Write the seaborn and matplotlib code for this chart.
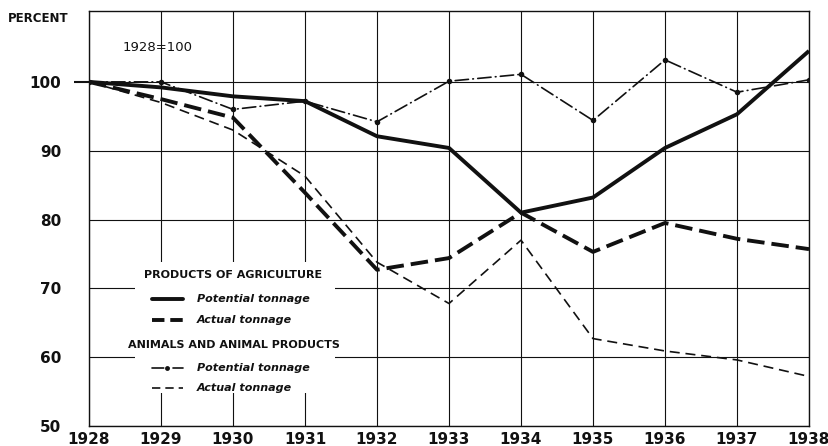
import matplotlib
matplotlib.use("Agg")
import matplotlib.pyplot as plt
import seaborn as sns
from matplotlib.patches import Rectangle
from matplotlib.lines import Line2D

# Index of potential and actual tonnage, 1928 = 100
years = [1928, 1929, 1930, 1931, 1932, 1933, 1934, 1935, 1936, 1937, 1938]
agri_potential = [100, 99.2, 97.9, 97.2, 92.1, 90.4, 81.0, 83.2, 90.4, 95.3, 104.5]
agri_actual = [100, 97.5, 94.8, 83.9, 72.7, 74.4, 81.0, 75.3, 79.5, 77.2, 75.7]
animal_potential = [100, 100.0, 96.0, 97.2, 94.2, 100.1, 101.1, 94.4, 103.2, 98.5, 100.3]
animal_actual = [100, 97.0, 93.0, 86.3, 73.8, 67.8, 77.0, 62.7, 60.9, 59.6, 57.2]

y_ticks = [50, 60, 70, 80, 90, 100]

sns.set_theme(style="white")
plt.rcParams["font.family"] = ["DejaVu Sans"]

fig = plt.figure(figsize=(8.29, 4.46), dpi=100)
ax = fig.add_axes([89 / 829, 20 / 446, 720 / 829, 415 / 446])

ink = "#111111"

# data lines
sns.lineplot(x=years, y=agri_potential, ax=ax, color=ink, lw=2.8,
             solid_capstyle="butt", zorder=5)
sns.lineplot(x=years, y=agri_actual, ax=ax, color=ink, lw=2.8,
             linestyle=(0, (4.5, 1.8)), dash_capstyle="butt", zorder=5)
sns.lineplot(x=years, y=animal_potential, ax=ax, color=ink, lw=1.2,
             linestyle=(0, (8, 2.6, 0.4, 2.6)), dash_capstyle="round",
             marker="o", markersize=4, markeredgewidth=0, zorder=5)
sns.lineplot(x=years, y=animal_actual, ax=ax, color=ink, lw=1.2,
             linestyle=(0, (6, 3.5)), dash_capstyle="butt", zorder=5)

ax.set_xlim(1928, 1938)
ax.set_ylim(50, 110.3)
ax.set_xticks(years)
ax.set_xticklabels([str(y) for y in years])
ax.set_yticks(y_ticks)
ax.set_yticklabels([str(v) for v in y_ticks])
ax.set_xlabel("")
ax.set_ylabel("")

ax.grid(True, color=ink, lw=0.8, zorder=0)
ax.set_axisbelow(True)
for s in ax.spines.values():
    s.set_visible(True)
    s.set_color(ink)
    s.set_linewidth(1.0)

ax.tick_params(axis="x", bottom=True, length=0, pad=4, labelsize=11, colors=ink)
ax.tick_params(axis="y", left=True, length=0, pad=20, labelsize=11, colors=ink)
for lab in ax.get_xticklabels() + ax.get_yticklabels():
    lab.set_fontweight("bold")

# short outward tick at the base value
base_tick = ax.yaxis.get_major_ticks()[y_ticks.index(100)]
base_tick.tick1line.set_visible(True)
base_tick.tick1line.set_markersize(11)
base_tick.tick1line.set_markeredgewidth(1.5)
base_tick.tick1line.set_color(ink)

# axis caption and base note
fig.text(8 / 829, 1 - 19 / 446, "PERCENT", fontsize=8.5, fontweight="bold",
         ha="left", va="center", color=ink)
ax.text(0.047, 0.911, "1928=100", transform=ax.transAxes, fontsize=9.5,
        ha="left", va="center", color=ink)

# legend panel
ax.add_patch(Rectangle((0.064, 0.08), 0.278, 0.315, transform=ax.transAxes,
                       facecolor="white", edgecolor="none", zorder=2))

head_kw = dict(transform=ax.transAxes, fontsize=8, fontweight="bold",
               ha="center", va="center", color=ink, zorder=6)
ax.text(0.200, 0.364, "PRODUCTS OF AGRICULTURE", **head_kw)
ax.text(0.2007, 0.195, "ANIMALS AND ANIMAL PRODUCTS", **head_kw)

entries = [
    (0.306, "Potential tonnage", dict(lw=2.8, linestyle="-")),
    (0.2554, "Actual tonnage", dict(lw=2.8, linestyle=(0, (3.2, 1.5)))),
    (0.1398, "Potential tonnage", dict(lw=1.2, linestyle=(0, (7, 2.6, 0.4, 2.6)),
                                        dash_capstyle="round")),
    (0.0916, "Actual tonnage", dict(lw=1.2, linestyle=(0, (5, 3)))),
]
for yy, label, style in entries:
    ax.add_line(Line2D([0.0875, 0.1306], [yy, yy], transform=ax.transAxes,
                       color=ink, zorder=6, **style))
    ax.text(0.150, yy, label, transform=ax.transAxes, fontsize=8,
            fontweight="bold", fontstyle="italic", ha="left", va="center",
            color=ink, zorder=6)
# centre dot of the dash-dot sample
ax.add_line(Line2D([0.109], [0.1398], transform=ax.transAxes, color=ink,
                   marker="o", markersize=3.5, markeredgewidth=0, zorder=6))

fig.savefig("out.png", dpi=100, facecolor="white")
